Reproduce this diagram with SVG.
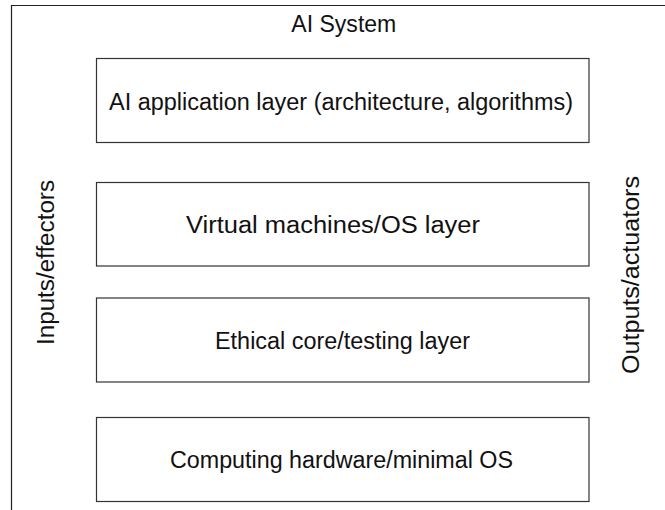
<svg xmlns="http://www.w3.org/2000/svg" width="665" height="510" viewBox="0 0 665 510">
<style>
.frame{fill:none;stroke:#222;stroke-width:1.2}
.box{fill:#fff;stroke:#333;stroke-width:1.2}
.t{font-family:"Liberation Sans",Arial,sans-serif;font-size:23px;fill:#111;text-anchor:middle}
</style>
<rect width="665" height="510" fill="#fff"/>
<g id="system">
<path class="frame" d="M11.5 520 V5.5 H670"/>
<text class="t" x="343.8" y="32" textLength="105" lengthAdjust="spacingAndGlyphs">AI System</text>
</g>
<g id="app-layer">
<rect class="box" x="96.5" y="58.5" width="492.5" height="84"/>
<text class="t" x="341" y="109.5" textLength="464" lengthAdjust="spacingAndGlyphs">AI application layer (architecture, algorithms)</text>
</g>
<g id="vm-layer">
<rect class="box" x="96.5" y="182.5" width="492.5" height="83.5"/>
<text class="t" x="333" y="233" textLength="294" lengthAdjust="spacingAndGlyphs">Virtual machines/OS layer</text>
</g>
<g id="ethical-layer">
<rect class="box" x="96.5" y="298" width="492.5" height="84"/>
<text class="t" x="342.5" y="349" textLength="255" lengthAdjust="spacingAndGlyphs">Ethical core/testing layer</text>
</g>
<g id="hw-layer">
<rect class="box" x="96.5" y="417.5" width="492.5" height="84"/>
<text class="t" x="341.5" y="467.5" textLength="343" lengthAdjust="spacingAndGlyphs">Computing hardware/minimal OS</text>
</g>
<g id="inputs">
<text class="t" transform="translate(53.5 262.5) rotate(-90)" textLength="165" lengthAdjust="spacingAndGlyphs">Inputs/effectors</text>
</g>
<g id="outputs">
<text class="t" transform="translate(639 275) rotate(-90)" textLength="198" lengthAdjust="spacingAndGlyphs">Outputs/actuators</text>
</g>
<g id="connectors"></g>
</svg>
